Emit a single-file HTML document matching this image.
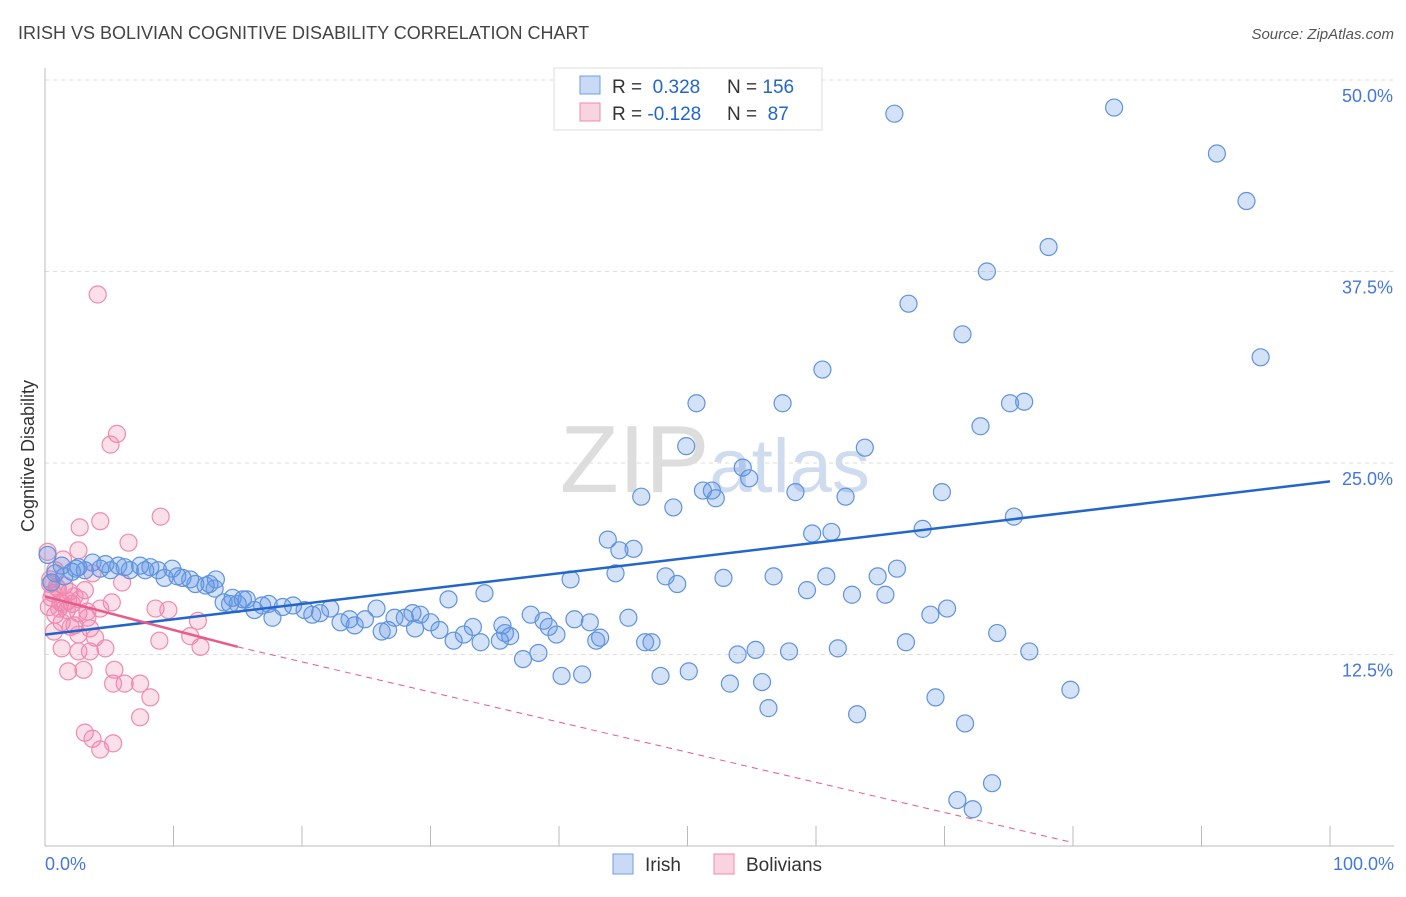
<!DOCTYPE html>
<html><head><meta charset="utf-8"><style>
body{margin:0;background:#fff;font-family:"Liberation Sans",sans-serif;}
svg text{font-family:"Liberation Sans",sans-serif;}
</style></head><body>
<svg id="chart" width="1406" height="892">
<text x="18" y="39" font-size="18" fill="#444">IRISH VS BOLIVIAN COGNITIVE DISABILITY CORRELATION CHART</text>
<text x="1394" y="39" font-size="15" fill="#555" text-anchor="end" font-style="italic">Source: ZipAtlas.com</text>
<text x="560" y="492" font-size="96" fill="#ddd" font-family="Liberation Serif">ZIP<tspan font-family="Liberation Sans" font-size="76" fill="#cfdcef">atlas</tspan></text>
<g id="grid"></g>
<g id="pts"></g>
<g id="lines"></g>
<text transform="translate(34,456) rotate(-90)" font-size="18" fill="#333" text-anchor="middle">Cognitive Disability</text>
<text x="45" y="870" font-size="18" fill="#4477dd">0.0%</text>
<text x="1394" y="870" font-size="18" fill="#4477dd" text-anchor="end">100.0%</text>
<g>
<rect x="554" y="68" width="268" height="62" fill="#fff" stroke="#ddd"/>
<rect x="580" y="76" width="20" height="18" fill="rgba(100,150,230,0.35)" stroke="#6fa0e0"/>
<rect x="580" y="103" width="20" height="18" fill="rgba(240,130,170,0.35)" stroke="#f08aae"/>
<text x="612" y="93" font-size="19" fill="#333">R = <tspan fill="#2266cc">&#160;0.328</tspan><tspan x="727">N = </tspan><tspan fill="#2266cc">156</tspan></text>
<text x="612" y="120" font-size="19" fill="#333">R = <tspan fill="#2266cc">-0.128</tspan><tspan x="727">N = </tspan><tspan fill="#2266cc">&#160;87</tspan></text>
</g>
<g>
<rect x="613" y="854" width="20" height="20" fill="rgba(100,150,230,0.35)" stroke="#6fa0e0"/>
<text x="645" y="871" font-size="19" fill="#333">Irish</text>
<rect x="714" y="854" width="20" height="20" fill="rgba(240,130,170,0.35)" stroke="#f08aae"/>
<text x="746" y="871" font-size="19" fill="#333">Bolivians</text>
</g>
</svg>
<script>
const yTicks=[12.5,25,37.5,50];
const xTicks=[0,10,20,30,40,50,60,70,80,90,100];
const irishX=[66.1,83.2,91.2,93.5,78.1,73.3,67.2,71.4,94.6,60.5,50.7,57.4,75.1,76.2,72.8,49.9,63.8,54.3,54.8,46.4,51.2,51.9,52.2,58.4,62.3,69.8,48.9,75.4,59.7,61.2,68.3,43.8,44.7,45.8,44.4,40.9,48.3,49.2,52.8,56.7,60.8,64.8,66.3,59.3,62.8,65.4,34.2,31.4,68.9,70.2,45.4,41.2,42.4,37.8,38.8,39.2,39.8,35.6,35.8,36.2,33.3,32.6,31.8,33.9,35.4,30.7,29.2,30.0,25.8,27.2,28.0,28.6,26.7,26.2,28.8,24.9,23.7,23.0,24.1,22.2,21.4,20.8,20.2,19.3,18.5,17.7,16.9,16.3,15.7,15.0,14.4,13.9,14.6,15.4,17.4,13.2,12.8,13.3,12.5,11.7,11.3,10.7,10.3,9.9,9.3,8.8,8.2,7.8,7.4,6.6,6.2,5.7,5.1,4.7,4.3,3.7,3.1,2.6,2.1,1.3,0.8,0.2,74.1,76.6,79.8,71.6,69.3,73.7,71.0,72.2,63.2,56.3,55.8,53.3,53.9,55.3,57.9,61.7,67.0,50.1,47.9,41.8,40.2,46.7,47.2,42.9,43.2,37.2,38.4,1.5,2.4,0.5];
const irishY=[47.8,48.2,45.2,42.1,39.1,37.5,35.4,33.4,31.9,31.1,28.9,28.9,28.9,29.0,27.4,26.1,26.0,24.7,24.0,22.8,23.2,23.2,22.7,23.1,22.8,23.1,22.1,21.5,20.4,20.5,20.7,20.0,19.3,19.4,17.8,17.4,17.6,17.1,17.5,17.6,17.6,17.6,18.1,16.7,16.4,16.4,16.5,16.1,15.1,15.5,14.9,14.8,14.6,15.1,14.7,14.3,13.8,14.4,13.9,13.7,14.3,13.8,13.4,13.3,13.4,14.1,15.1,14.6,15.5,14.9,14.9,15.2,14.1,14.0,14.2,14.8,14.8,14.6,14.4,15.5,15.2,15.1,15.4,15.7,15.6,14.9,15.7,15.4,16.1,15.8,15.8,15.9,16.2,16.1,15.8,16.8,17.1,17.4,17.0,17.1,17.4,17.5,17.6,18.1,17.5,18.0,18.2,18.0,18.3,18.0,18.2,18.3,18.0,18.4,18.1,18.5,18.0,18.2,17.9,18.3,17.8,19.0,13.9,12.7,10.2,8.0,9.7,4.1,3.0,2.4,8.6,9.0,10.7,10.6,12.5,12.8,12.7,12.9,13.3,11.4,11.1,11.2,11.1,13.3,13.3,13.4,13.6,12.2,12.6,17.6,18.1,17.2];
const bolX=[4.1,5.6,5.1,9.0,4.3,2.7,6.5,2.6,0.2,1.4,3.7,6.0,0.8,0.4,1.0,1.9,3.1,0.5,1.2,2.1,2.7,5.2,4.3,3.3,1.7,0.8,8.6,9.6,11.9,1.3,2.3,3.5,2.6,3.9,8.9,11.3,12.1,1.3,3.5,4.7,2.6,5.4,1.8,3.0,6.2,5.3,7.4,8.2,7.4,3.1,3.7,5.3,4.3,0.6,1.5,2.3,0.3,0.9,1.8,2.6,3.3,0.4,1.1,2.0,0.7,1.4];
const bolY=[36.0,26.9,26.2,21.5,21.2,20.8,19.8,19.3,19.2,18.7,17.8,17.2,18.0,17.4,16.8,16.6,16.7,16.2,15.9,15.8,16.1,15.9,15.5,15.3,15.4,15.1,15.5,15.4,14.7,14.6,14.4,14.2,13.8,13.6,13.4,13.7,13.0,12.9,12.7,12.9,12.7,11.5,11.4,11.5,10.6,10.6,10.6,9.7,8.4,7.4,7.0,6.7,6.3,16.5,17.0,16.3,15.6,16.9,16.0,15.2,14.9,17.1,15.5,14.3,14.0,15.8];
const irishTrend=[[0,13.8],[100,23.8]];
const bolTrend=[[0,16.3],[15,13.0],[100,-3.8]];
const X=v=>45+v*12.85, Y=v=>846-v*15.32;
const ns="http://www.w3.org/2000/svg";
function mk(t,a,p){const e=document.createElementNS(ns,t);for(const k in a)e.setAttribute(k,a[k]);p.appendChild(e);return e;}
const grid=document.getElementById('grid'),pts=document.getElementById('pts'),lines=document.getElementById('lines');
yTicks.forEach(t=>{
 const l=mk('line',{x1:45,x2:1394,y1:Y(t),y2:Y(t),stroke:'#ddd','stroke-dasharray':'4,4'},grid);
 
 
 const tx=mk('text',{x:1393,y:Y(t)+22,'font-size':18,fill:'#4477dd','text-anchor':'end'},grid);
 tx.textContent=t.toFixed(1)+'%';
 
 
});
mk('line',{x1:45,x2:45,y1:68,y2:846,stroke:'#bbb'},grid);
mk('line',{x1:45,x2:1394,y1:846,y2:846,stroke:'#bbb'},grid);
xTicks.forEach(t=>{
 const l=mk('line',{x1:X(t),x2:X(t),y1:826,y2:846,stroke:'#bbb'},grid);
 
 
});
bolX.forEach((x,i)=>{
 const c=mk('circle',{cx:X(x),cy:Y(bolY[i]),r:8.5,fill:'rgba(240,130,170,0.25)',stroke:'#f08aae','stroke-width':1.2},pts);
 
 
});
irishX.forEach((x,i)=>{
 const c=mk('circle',{cx:X(x),cy:Y(irishY[i]),r:8.5,fill:'rgba(100,150,230,0.28)',stroke:'#5f93dd','stroke-width':1.2},pts);
 
 
});
const it=mk('line',{x1:X(irishTrend[0][0]),y1:Y(irishTrend[0][1]),x2:X(irishTrend[1][0]),y2:Y(irishTrend[1][1]),stroke:'#2266cc','stroke-width':2.5},lines);


const bt=mk('line',{x1:X(bolTrend[0][0]),y1:Y(bolTrend[0][1]),x2:X(bolTrend[1][0]),y2:Y(bolTrend[1][1]),stroke:'#e85a8a','stroke-width':2.5},lines);


const bd=mk('line',{x1:X(bolTrend[1][0]),y1:Y(bolTrend[1][1]),x2:X(80),y2:Y(bolTrend[0][1]+(bolTrend[2][1]-bolTrend[0][1])*0.8),stroke:'#e85a8a','stroke-width':1,'stroke-dasharray':'6,5'},lines);


</script>
</body></html>
